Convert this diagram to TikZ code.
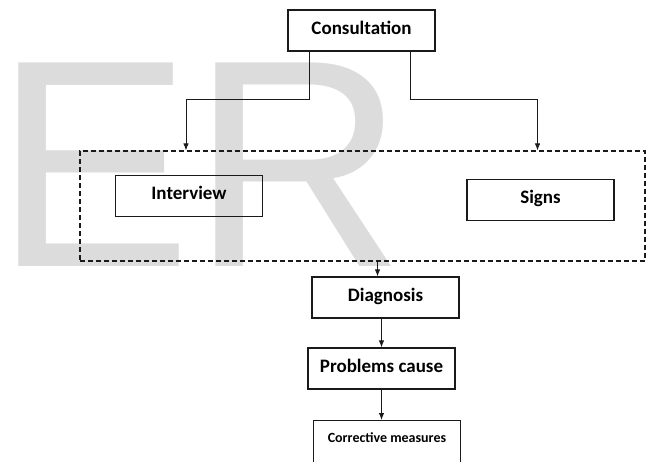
\documentclass[tikz,border=0pt]{standalone}
\usepackage{fontspec}
\setmainfont{Carlito}
\newfontfamily\markfont{Liberation Sans}
\usetikzlibrary{arrows.meta,positioning}
\definecolor{ink}{HTML}{1A1A1A}
\definecolor{wash}{HTML}{DCDCDC}

\begin{document}
\begin{tikzpicture}[x=1pt,y=-1pt,>={Latex[length=7pt,width=5.5pt]},
  stepbox/.style={draw=ink,line width=1.3pt,minimum width=147pt,minimum height=41pt,
    font=\fontsize{19}{19}\selectfont\bfseries,text height=13pt,text depth=5pt},
  flow/.style={->,ink,line width=0.9pt}]
  \useasboundingbox (0,0) rectangle (647,462);
  \clip (0,0) rectangle (647,462);
  % watermark
  \node[wash,anchor=base west,inner sep=0pt,font=\markfont\fontsize{296}{296}\selectfont] (wmark) at (-6,266) {ER};
  % boxes
  \node[stepbox] (cons) at (361.5,30.5) {Consultation};
  \node[draw=ink,line width=1.2pt,dash pattern=on 5pt off 3pt,minimum width=565pt,minimum height=110pt] (group) at (362.5,206) {};
  \node[stepbox] (interview) at (189,196) {Interview};
  \node[stepbox] (signs) at (540.5,200) {Signs};
  \node[stepbox] (diag) at (385.5,297.5) {Diagnosis};
  \node[stepbox] (prob) at (381.5,368.5) {Problems cause};
  \node[stepbox,anchor=north,minimum height=60pt,text depth=29pt,font=\fontsize{14}{14}\selectfont\bfseries] (corr) at (387,420) {Corrective measures};
  % connectors
  \draw[flow] ([xshift=22pt]cons.south west) -- ++(0,48) -| ([xshift=-3pt]interview.north |- group.north);
  \draw[flow] ([xshift=-25pt]cons.south east) -- ++(0,48) -| ([xshift=-3pt]signs.north |- group.north);
  \draw[flow] ([xshift=-8pt]diag.north |- group.south) -- ([xshift=-8pt]diag.north);
  \draw[flow] (diag.south -| prob.north) -- (prob.north);
  \draw[flow] (prob.south) -- (prob.south |- corr.north);
\end{tikzpicture}
\end{document}
